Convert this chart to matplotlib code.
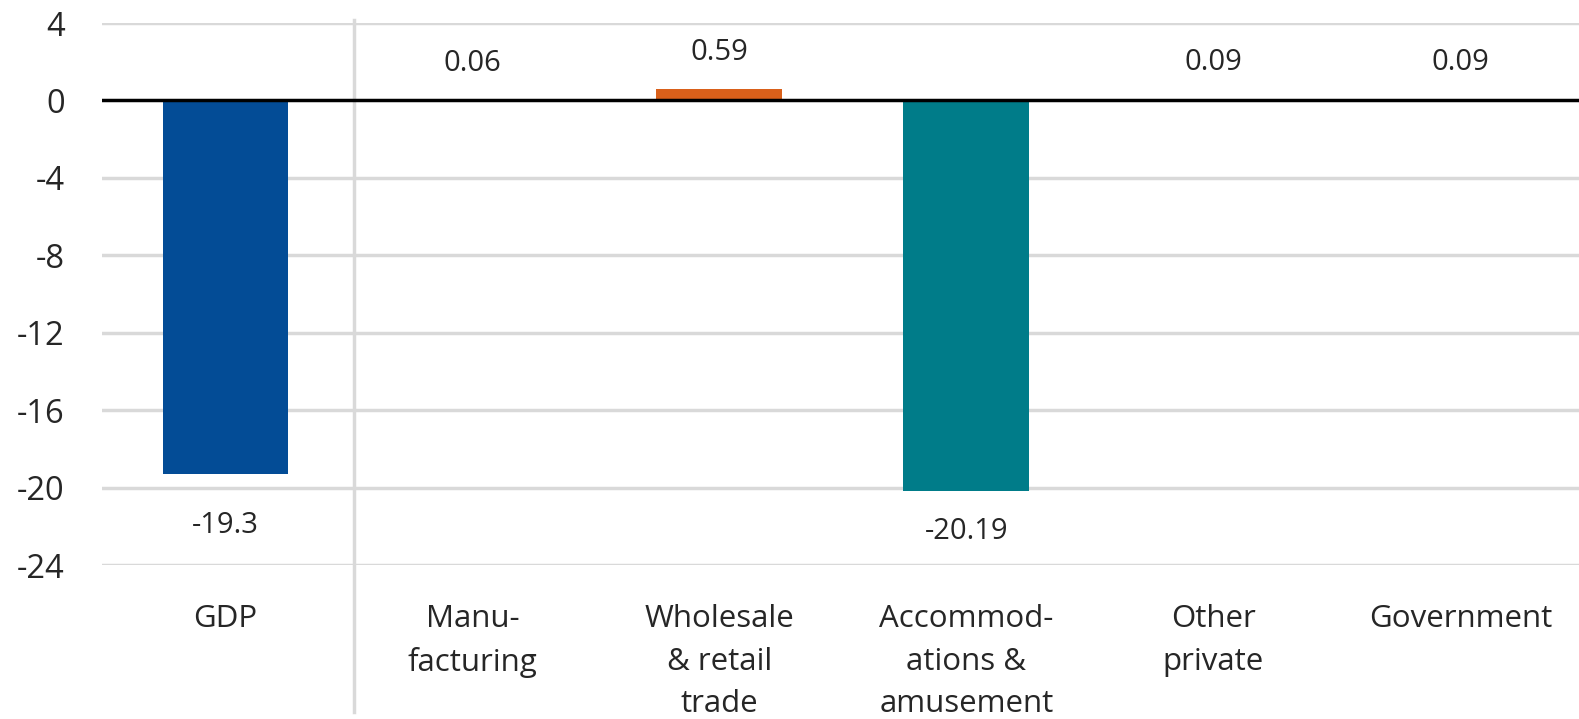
import matplotlib
matplotlib.use("Agg")
import matplotlib.pyplot as plt
from matplotlib.lines import Line2D
import matplotlib.transforms as mtransforms

categories = ["GDP", "Manu-\nfacturing", "Wholesale\n& retail\ntrade",
              "Accommod-\nations &\namusement", "Other\nprivate", "Government"]
values = [-19.3, 0.06, 0.59, -20.19, 0.09, 0.09]
labels = ["-19.3", "0.06", "0.59", "-20.19", "0.09", "0.09"]
colors = ["#034C96", "#D9601A", "#D9601A", "#007C89", "#D9601A", "#D9601A"]
yticks = [4, 0, -4, -8, -12, -16, -20, -24]

plt.rcParams['font.family'] = ['Open Sans', 'DejaVu Sans']
text_color = "#262626"

fig = plt.figure(figsize=(15.79, 7.19), dpi=100)
ax = fig.add_axes([102/1579, 1 - 565/719, (1579 - 102)/1579, (565 - 23)/719])

x = list(range(len(categories)))
ax.bar(x, values, width=0.51, color=colors, zorder=3)

ax.set_ylim(-24, 4)
ax.set_xlim(-0.5, 5.48)
ax.set_yticks(yticks)
ax.set_yticklabels([str(t) for t in yticks], fontsize=23.5, color=text_color)
ax.tick_params(axis='y', length=0, pad=27)
ax.tick_params(axis='x', length=0, pad=28)
ax.set_xticks(x)
ax.set_xticklabels(categories, fontsize=22.5, color=text_color, linespacing=1.55, va='top')

for s in ax.spines.values():
    s.set_visible(False)

for t in yticks:
    if t != 0:
        ax.axhline(t, color="#D9D9D9", lw=2.5, zorder=1)
ax.axhline(0, color="black", lw=2.5, zorder=4)

trans = mtransforms.blended_transform_factory(ax.transData, fig.transFigure)
ax.add_line(Line2D([0.52, 0.52], [1 - 20/719, 1 - 712/719], transform=trans,
                   color="#D9D9D9", lw=2.5, clip_on=False, zorder=1))

neg_offsets = {0: -37, 3: -29}
for xi, v, lab in zip(x, values, labels):
    if v >= 0:
        ax.annotate(lab, (xi, v), xytext=(0, 26), textcoords='offset points',
                    ha='center', va='center', fontsize=21, color=text_color)
    else:
        ax.annotate(lab, (xi, v), xytext=(0, neg_offsets.get(xi, -30)), textcoords='offset points',
                    ha='center', va='center', fontsize=21, color=text_color)

fig.savefig("out.png", dpi=100)
